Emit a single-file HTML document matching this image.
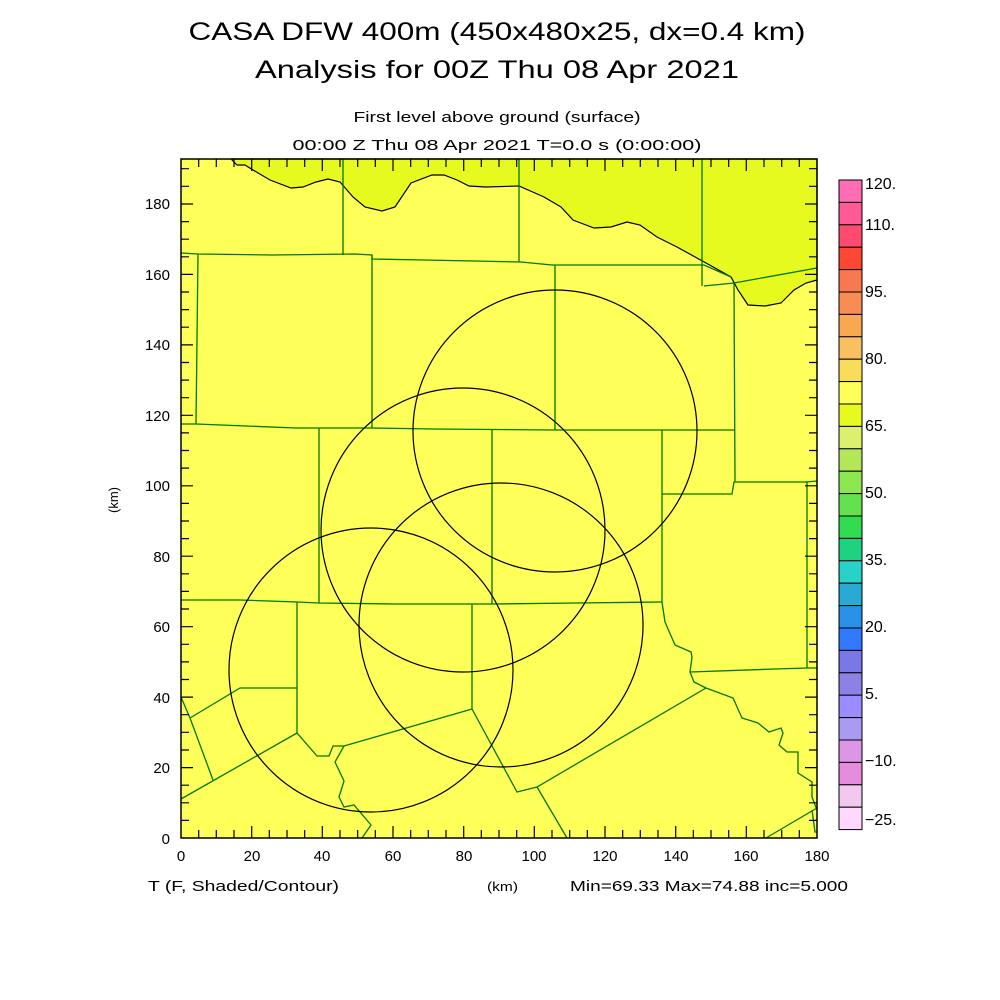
<!DOCTYPE html>
<html><head><meta charset="utf-8"><style>
html,body{margin:0;padding:0;background:#fff;}
svg{display:block;}
text{font-family:"Liberation Sans","DejaVu Sans",sans-serif;fill:#000;}
</style></head><body>
<svg width="1000" height="1000" viewBox="0 0 1000 1000" xmlns="http://www.w3.org/2000/svg">
<rect width="1000" height="1000" fill="#fff"/>
<text x="497" y="40" font-size="25" text-anchor="middle" textLength="617" lengthAdjust="spacingAndGlyphs">CASA DFW 400m (450x480x25, dx=0.4 km)</text>
<text x="497" y="78" font-size="25" text-anchor="middle" textLength="484" lengthAdjust="spacingAndGlyphs">Analysis for 00Z Thu 08 Apr 2021</text>
<text x="497" y="122" font-size="15" text-anchor="middle" textLength="287" lengthAdjust="spacingAndGlyphs">First level above ground (surface)</text>
<text x="497" y="150" font-size="15" text-anchor="middle" textLength="409" lengthAdjust="spacingAndGlyphs">00:00 Z Thu 08 Apr 2021   T=0.0 s (0:00:00)</text>

<rect x="181" y="159" width="636" height="679" fill="#ffff5a"/>
<path d="M232,160 L237,165 L245,165 L253,170 L270,180 L291,188 L303,187 L316,182 L328,179 L340,182 L353,197 L365,207 L382,211 L395,207 L411,183 L432,175 L444,175 L457,180 L469,186 L486,187 L519,186 L544,197 L561,207 L573,220 L594,228 L611,227 L627,222 L640,225 L657,237 L677,247 L706,263 L731,277 L738,290 L748,305 L765,306 L781,303 L794,290 L806,283 L817,280 L817,159 L232,159 Z" fill="#e6fa20" stroke="#000" stroke-width="1.2"/>

<g fill="none" stroke="#007800" stroke-width="1.3">
<path d="M343,159 V255 M519,159 V262 M702,159 V286"/>
<path d="M181,253 L198,254 L272,255 L355,254 L372,255 L372,259 L424,260 L474,261 L521,262 L552,265 L704,265 L731,277"/>
<path d="M704,286 L734,283 L817,268"/>
<path d="M198,254 L196,424 M372,255 V428 M555,265 V430 M734,283 L735,482"/>
<path d="M181,424 L196,424 L246,426 L296,428 L371,428 L433,429 L555,430 L735,430"/>
<path d="M662,430 V494 L732,494 L734,482 L806,482 L817,481 M662,494 V602 M807,482 V668"/>
<path d="M319,428 V603 M492,430 V604"/>
<path d="M181,600 L240,600 L297,602 L319,603 L396,604 L492,604 L576,603 L662,602"/>
<path d="M297,602 V733 M472,604 V709"/>
<path d="M181,697 L190,718 L213,780 M190,718 L240,688 L297,688"/>
<path d="M181,799 L297,733 L317,756 L329,756 L333,746 L344,746 L472,709"/>
<path d="M344,746 L335,762 L344,781 L339,797 L344,807 L354,805 L371,825 L362,838"/>
<path d="M472,709 L517,792 L537,787 L706,688 M537,787 L567,838"/>
<path d="M662,602 L665,622 L675,645 L691,652 L692,657 L690,672 L694,682 L706,688 L733,698 L742,718 L758,723 L769,732 L781,728 L783,733 L779,745 L787,752 L798,752 L798,773 L812,782 L812,797 L817,810"/>
<path d="M690,672 L775,669 L807,668 L817,668"/>
<path d="M766,838 L817,808 M812,810 L815,832 L817,832"/>
</g>

<g fill="none" stroke="#000" stroke-width="1.2">
<ellipse cx="555" cy="431" rx="142" ry="141"/>
<ellipse cx="463" cy="530" rx="142" ry="142"/>
<ellipse cx="501" cy="625" rx="142" ry="142"/>
<ellipse cx="371" cy="670" rx="142" ry="142"/>
</g>

<rect x="181" y="159" width="636" height="679" fill="none" stroke="#000" stroke-width="1.5"/>
<g stroke="#000" stroke-width="1.2" id="ticks">
<path d="
M198.7,838v-8 M216.3,838v-8 M234,838v-8 M251.7,838v-12 M269.3,838v-8 M287,838v-8 M304.7,838v-8 M322.3,838v-12 M340,838v-8 M357.7,838v-8 M375.3,838v-8 M393,838v-12 M410.7,838v-8 M428.3,838v-8 M446,838v-8 M463.7,838v-12 M481.3,838v-8 M499,838v-8 M516.7,838v-8 M534.3,838v-12 M552,838v-8 M569.7,838v-8 M587.3,838v-8 M605,838v-12 M622.7,838v-8 M640.3,838v-8 M658,838v-8 M675.7,838v-12 M693.3,838v-8 M711,838v-8 M728.7,838v-8 M746.3,838v-12 M764,838v-8 M781.7,838v-8 M799.3,838v-8
M198.7,159v8 M216.3,159v8 M234,159v8 M251.7,159v12 M269.3,159v8 M287,159v8 M304.7,159v8 M322.3,159v12 M340,159v8 M357.7,159v8 M375.3,159v8 M393,159v12 M410.7,159v8 M428.3,159v8 M446,159v8 M463.7,159v12 M481.3,159v8 M499,159v8 M516.7,159v8 M534.3,159v12 M552,159v8 M569.7,159v8 M587.3,159v8 M605,159v12 M622.7,159v8 M640.3,159v8 M658,159v8 M675.7,159v12 M693.3,159v8 M711,159v8 M728.7,159v8 M746.3,159v12 M764,159v8 M781.7,159v8 M799.3,159v8
"/>
<path d="
M181,820.4h8 M181,802.8h8 M181,785.2h8 M181,767.6h12 M181,750h8 M181,732.3h8 M181,714.7h8 M181,697.1h12 M181,679.5h8 M181,661.9h8 M181,644.3h8 M181,626.7h12 M181,609h8 M181,591.4h8 M181,573.8h8 M181,556.2h12 M181,538.6h8 M181,521h8 M181,503.4h8 M181,485.8h12 M181,468.1h8 M181,450.5h8 M181,432.9h8 M181,415.3h12 M181,397.7h8 M181,380.1h8 M181,362.5h8 M181,344.9h12 M181,327.2h8 M181,309.6h8 M181,292h8 M181,274.4h12 M181,256.8h8 M181,239.2h8 M181,221.6h8 M181,204h12 M181,186.3h8 M181,168.7h8
M817,820.4h-8 M817,802.8h-8 M817,785.2h-8 M817,767.6h-12 M817,750h-8 M817,732.3h-8 M817,714.7h-8 M817,697.1h-12 M817,679.5h-8 M817,661.9h-8 M817,644.3h-8 M817,626.7h-12 M817,609h-8 M817,591.4h-8 M817,573.8h-8 M817,556.2h-12 M817,538.6h-8 M817,521h-8 M817,503.4h-8 M817,485.8h-12 M817,468.1h-8 M817,450.5h-8 M817,432.9h-8 M817,415.3h-12 M817,397.7h-8 M817,380.1h-8 M817,362.5h-8 M817,344.9h-12 M817,327.2h-8 M817,309.6h-8 M817,292h-8 M817,274.4h-12 M817,256.8h-8 M817,239.2h-8 M817,221.6h-8 M817,204h-12 M817,186.3h-8 M817,168.7h-8
"/>
</g>

<g font-size="15" text-anchor="middle">
<text x="181" y="861">0</text><text x="252" y="861">20</text><text x="322" y="861">40</text><text x="393" y="861">60</text><text x="464" y="861">80</text><text x="534" y="861">100</text><text x="605" y="861">120</text><text x="676" y="861">140</text><text x="746" y="861">160</text><text x="817" y="861">180</text>
</g>
<g font-size="15" text-anchor="end">
<text x="170" y="844">0</text><text x="170" y="773">20</text><text x="170" y="703">40</text><text x="170" y="632">60</text><text x="170" y="562">80</text><text x="170" y="491">100</text><text x="170" y="421">120</text><text x="170" y="350">140</text><text x="170" y="280">160</text><text x="170" y="209">180</text>
</g>
<text x="118" y="500" font-size="13" text-anchor="middle" transform="rotate(-90 118 500)">(km)</text>
<text x="148" y="891" font-size="15" textLength="191" lengthAdjust="spacingAndGlyphs">T (F, Shaded/Contour)</text>
<text x="487" y="891" font-size="13" textLength="31" lengthAdjust="spacingAndGlyphs">(km)</text>
<text x="570" y="891" font-size="15" textLength="278" lengthAdjust="spacingAndGlyphs">Min=69.33 Max=74.88 inc=5.000</text>

<g stroke="#000" stroke-width="1">
<rect x="839" y="180" width="23" height="22.4" fill="#ff6eb4"/>
<rect x="839" y="202.4" width="23" height="22.4" fill="#ff5a96"/>
<rect x="839" y="224.8" width="23" height="22.4" fill="#ff4b6e"/>
<rect x="839" y="247.2" width="23" height="22.4" fill="#ff4632"/>
<rect x="839" y="269.6" width="23" height="22.4" fill="#f87850"/>
<rect x="839" y="292" width="23" height="22.4" fill="#f88c55"/>
<rect x="839" y="314.4" width="23" height="22.4" fill="#f8a850"/>
<rect x="839" y="336.8" width="23" height="22.4" fill="#f8c060"/>
<rect x="839" y="359.2" width="23" height="22.4" fill="#f8dc5a"/>
<rect x="839" y="381.6" width="23" height="22.4" fill="#ffff5a"/>
<rect x="839" y="404" width="23" height="22.4" fill="#e6fa20"/>
<rect x="839" y="426.4" width="23" height="22.4" fill="#dcf06e"/>
<rect x="839" y="448.8" width="23" height="22.4" fill="#b4e65a"/>
<rect x="839" y="471.2" width="23" height="22.4" fill="#8ce650"/>
<rect x="839" y="493.6" width="23" height="22.4" fill="#64e150"/>
<rect x="839" y="516" width="23" height="22.4" fill="#32dc50"/>
<rect x="839" y="538.4" width="23" height="22.4" fill="#1ed282"/>
<rect x="839" y="560.8" width="23" height="22.4" fill="#28d2c8"/>
<rect x="839" y="583.2" width="23" height="22.4" fill="#28aad2"/>
<rect x="839" y="605.6" width="23" height="22.4" fill="#2890e6"/>
<rect x="839" y="628" width="23" height="22.4" fill="#3278ff"/>
<rect x="839" y="650.4" width="23" height="22.4" fill="#7878e6"/>
<rect x="839" y="672.8" width="23" height="22.4" fill="#8c82e6"/>
<rect x="839" y="695.2" width="23" height="22.4" fill="#9a8cff"/>
<rect x="839" y="717.6" width="23" height="22.4" fill="#aa9bf0"/>
<rect x="839" y="740" width="23" height="22.4" fill="#dc96e6"/>
<rect x="839" y="762.4" width="23" height="22.4" fill="#e68cdc"/>
<rect x="839" y="784.8" width="23" height="22.4" fill="#f0c8f0"/>
<rect x="839" y="807.2" width="23" height="22.4" fill="#ffd8ff"/>
</g>
<g font-size="16">
<text x="865" y="189">120.</text>
<text x="865" y="230">110.</text>
<text x="865" y="297">95.</text>
<text x="865" y="364">80.</text>
<text x="865" y="431">65.</text>
<text x="865" y="498">50.</text>
<text x="865" y="565">35.</text>
<text x="865" y="632">20.</text>
<text x="865" y="699">5.</text>
<text x="865" y="766">−10.</text>
<text x="865" y="825">−25.</text>
</g>
</svg>
</body></html>
